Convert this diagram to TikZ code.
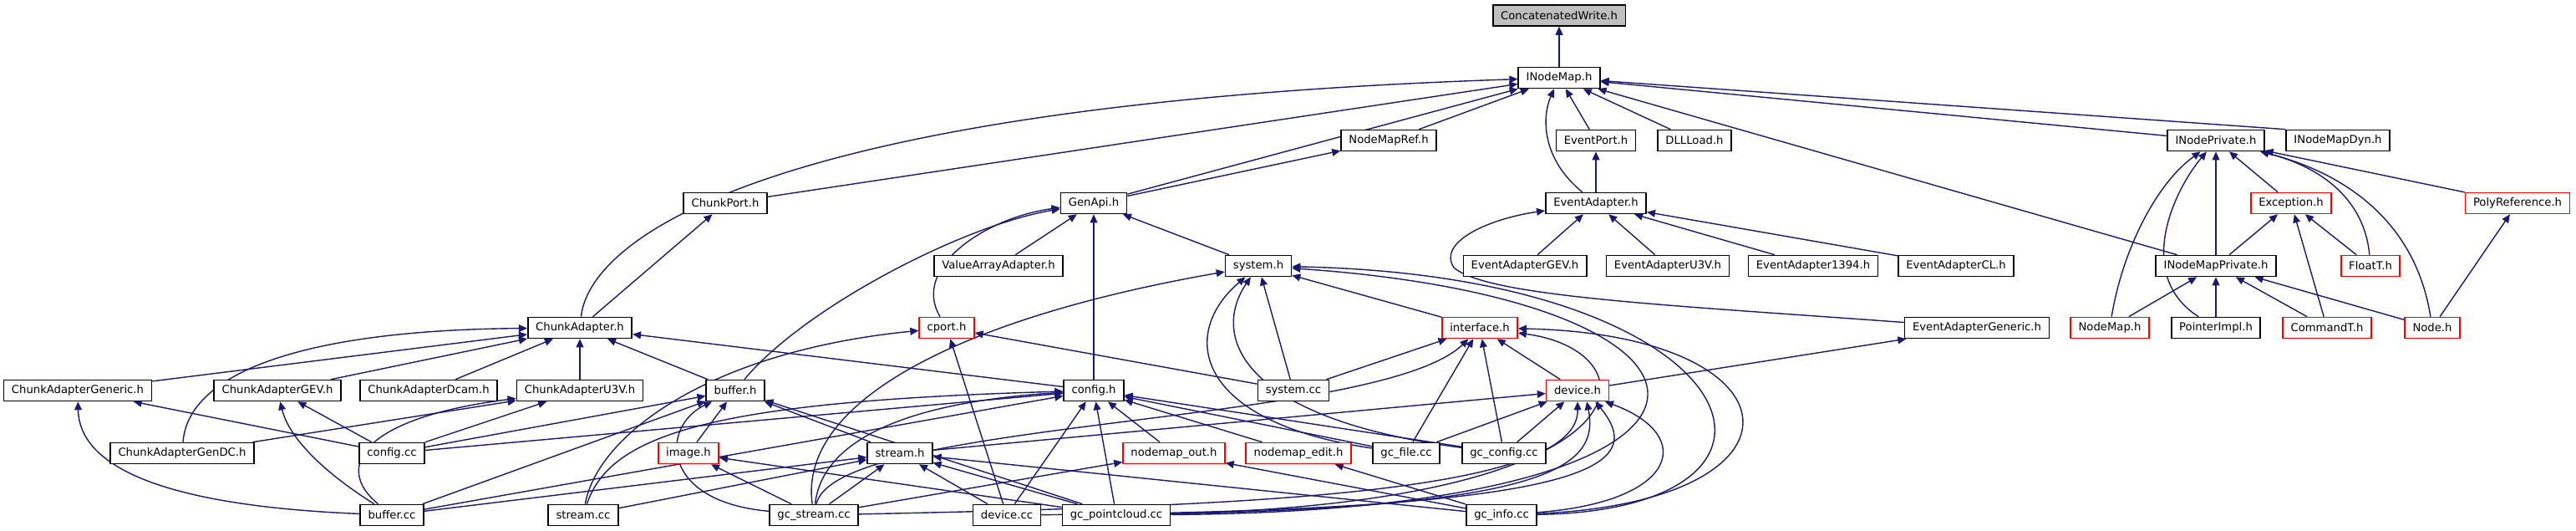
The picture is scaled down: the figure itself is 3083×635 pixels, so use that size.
\documentclass[tikz,border=0pt]{standalone}
\usepackage{fontspec}
\setmainfont{DejaVu Sans}
\definecolor{edgec}{RGB}{25,25,112}
\definecolor{rootc}{RGB}{191,191,191}
\definecolor{redc}{RGB}{255,0,0}
\usepackage{tikz}
\usetikzlibrary{
	arrows.meta,
	backgrounds % edges behind boxes
}
\tikzset{
  % arrow
	cstinc/.style     ={-{Triangle[length=5pt,width=4.4pt]}, edgec, line width=0.7pt}, % include arrow
  % node
	cstfile/.style    ={draw=black,fill=white,text=black,line width=0.8pt,minimum height=12.5pt,inner xsep=4.7pt,inner ysep=0pt,font=\fontsize{6.6}{7.9}\selectfont},
	cstfiler/.style   ={cstfile,draw=redc}, % red border
	cstroot/.style    ={cstfile,fill=rootc}  % gray root
}
\begin{document}
\begin{tikzpicture}[x=0.5pt,y=-0.5pt]
	\useasboundingbox (0,0) rectangle (3083,635);
	% row 0 - 2
	\node[cstroot] (cw) at (1866,18.5) {ConcatenatedWrite.h};
	\node[cstfile] (inm) at (1866,93) {INodeMap.h};
	\node[cstfile] (nmr) at (1662,168) {NodeMapRef.h};
	\node[cstfile] (evp) at (1910,168) {EventPort.h};
	\node[cstfile] (dll) at (2028,168) {DLLLoad.h};
	\node[cstfile] (inp) at (2652,168) {INodePrivate.h};
	\node[cstfile] (inmd) at (2798,168) {INodeMapDyn.h};
	% row 3
	\node[cstfile] (chp) at (868,243) {ChunkPort.h};
	\node[cstfile] (gen) at (1309,243) {GenApi.h};
	\node[cstfile] (eva) at (1910,243) {EventAdapter.h};
	\node[cstfiler] (exc) at (2742,243) {Exception.h};
	\node[cstfiler] (poly) at (3013,243) {PolyReference.h};
	% row 4
	\node[cstfile] (vaa) at (1195,318) {ValueArrayAdapter.h};
	\node[cstfile] (sysh) at (1506,318) {system.h};
	\node[cstfile] (evgev) at (1825,318) {EventAdapterGEV.h};
	\node[cstfile] (evu3v) at (1996,318) {EventAdapterU3V.h};
	\node[cstfile] (ev1394) at (2170,318) {EventAdapter1394.h};
	\node[cstfile] (evcl) at (2341,318) {EventAdapterCL.h};
	\node[cstfile] (inmp) at (2652,318) {INodeMapPrivate.h};
	\node[cstfiler] (flt) at (2837,318) {FloatT.h};
	% row 5
	\node[cstfile] (cha) at (694,392) {ChunkAdapter.h};
	\node[cstfiler] (cport) at (1133,392) {cport.h};
	\node[cstfiler] (ifc) at (1771,392) {interface.h};
	\node[cstfile] (evgen) at (2366,392) {EventAdapterGeneric.h};
	\node[cstfiler] (nm) at (2525,392) {NodeMap.h};
	\node[cstfile] (ptr) at (2652,392) {PointerImpl.h};
	\node[cstfiler] (cmd) at (2785,392) {CommandT.h};
	\node[cstfiler] (node) at (2911,392) {Node.h};
	% row 6
	\node[cstfile] (chgen) at (93,467) {ChunkAdapterGeneric.h};
	\node[cstfile] (chgev) at (332,467) {ChunkAdapterGEV.h};
	\node[cstfile] (chdcam) at (513,467) {ChunkAdapterDcam.h};
	\node[cstfile] (chu3v) at (694,467) {ChunkAdapterU3V.h};
	\node[cstfile] (bufh) at (880,467) {buffer.h};
	\node[cstfile] (cfgh) at (1309,467) {config.h};
	\node[cstfile] (syscc) at (1548,467) {system.cc};
	\node[cstfiler] (devh) at (1888,467) {device.h};
	% row 7
	\node[cstfile] (chgdc) at (218,542) {ChunkAdapterGenDC.h};
	\node[cstfile] (cfgcc) at (469,542) {config.cc};
	\node[cstfiler] (img) at (824,542) {image.h};
	\node[cstfile] (strh) at (1077,542) {stream.h};
	\node[cstfiler] (nmout) at (1405,542) {nodemap\_out.h};
	\node[cstfiler] (nmedit) at (1554,542) {nodemap\_edit.h};
	\node[cstfile] (gcfile) at (1683,542) {gc\_file.cc};
	\node[cstfile] (gccfg) at (1800,542) {gc\_config.cc};
	% row 8
	\node[cstfile] (bufcc) at (469,616) {buffer.cc};
	\node[cstfile] (strcc) at (698,616) {stream.cc};
	\node[cstfile] (gcstr) at (974,616) {gc\_stream.cc};
	\node[cstfile] (devcc) at (1205,616) {device.cc};
	\node[cstfile] (gcpc) at (1336,616) {gc\_pointcloud.cc};
	\node[cstfile] (gcinfo) at (1797,616) {gc\_info.cc};
	\begin{scope}[on background layer]
	% ConcatenatedWrite.h, INodeMap.h
	\draw[cstinc] (inm) -- (cw);
	\draw[cstinc] (cha) .. controls (705,290) and (900,125) .. (inm);
	\draw[cstinc] (chp) -- (inm);
	\draw[cstinc] (gen) -- (inm);
	\draw[cstinc] (nmr) -- (inm);
	\draw[cstinc] (eva) .. controls (1845,190) and (1845,140) .. (inm);
	\draw[cstinc] (evp) -- (inm);
	\draw[cstinc] (dll) -- (inm);
	\draw[cstinc] (inp) -- (inm);
	\draw[cstinc] (inmd.north west) -- (inm);
	\draw[cstinc] (inmp) -- (inm);
	\draw[cstinc] (gen) -- (nmr);
	\draw[cstinc] (eva) -- (evp);
	\draw[cstinc] (cha) -- (chp);
	% GenApi.h
	\draw[cstinc] (cport) .. controls (1090,320) and (1180,260) .. (gen);
	\draw[cstinc] (bufh) .. controls (960,370) and (1150,270) .. (gen);
	\draw[cstinc] (vaa) -- (gen);
	\draw[cstinc] (cfgh) -- (gen);
	\draw[cstinc] (sysh) -- (gen);
	% EventAdapter.h
	\draw[cstinc] (evgev) -- (eva);
	\draw[cstinc] (evu3v) -- (eva);
	\draw[cstinc] (ev1394) -- (eva);
	\draw[cstinc] (evcl) -- (eva);
	\draw[cstinc] (evgen) .. controls (2000,365) and (1780,355) .. (1740,320) .. controls (1720,290) and (1780,262) .. (eva);
	% INodePrivate.h
	\draw[cstinc] (exc) -- (inp);
	\draw[cstinc] (poly) -- (inp);
	\draw[cstinc] (flt) .. controls (2830,240) and (2780,200) .. (inp);
	\draw[cstinc] (node) .. controls (2890,260) and (2800,205) .. (inp);
	\draw[cstinc] (nm) .. controls (2540,300) and (2580,220) .. (inp);
	\draw[cstinc] (ptr) .. controls (2555,330) and (2600,230) .. (inp);
	\draw[cstinc] (inmp) -- (inp);
	% Exception.h, INodeMapPrivate.h, PolyReference.h
	\draw[cstinc] (inmp) -- (exc);
	\draw[cstinc] (cmd) -- (exc);
	\draw[cstinc] (flt) -- (exc);
	\draw[cstinc] (nm) -- (inmp);
	\draw[cstinc] (ptr) -- (inmp);
	\draw[cstinc] (cmd) -- (inmp);
	\draw[cstinc] (node) -- (inmp);
	\draw[cstinc] (node) -- (poly);
	% ChunkAdapter.h
	\draw[cstinc] (chgen) -- (cha);
	\draw[cstinc] (chgev) -- (cha);
	\draw[cstinc] (chdcam) -- (cha);
	\draw[cstinc] (chu3v) -- (cha);
	\draw[cstinc] (chgdc) .. controls (225,450) and (350,395) .. (cha);
	\draw[cstinc] (bufh) -- (cha);
	\draw[cstinc] (cfgh) -- (cha);
	% cport.h
	\draw[cstinc] (strcc) .. controls (715,520) and (850,420) .. (cport);
	\draw[cstinc] (syscc) -- (cport);
	\draw[cstinc] (devcc) -- (cport);
	% system.h
	\draw[cstinc] (ifc) -- (sysh);
	\draw[cstinc] (syscc) -- (sysh);
	\draw[cstinc] (gcstr) .. controls (955,480) and (1150,380) .. (sysh);
	\draw[cstinc] (gcfile) .. controls (1430,505) and (1410,400) .. (sysh);
	\draw[cstinc] (gccfg) .. controls (1480,500) and (1450,400) .. (sysh);
	\draw[cstinc] (gcpc) .. controls (2150,610) and (2120,360) .. (sysh);
	\draw[cstinc] (gcinfo) .. controls (2200,610) and (2100,330) .. (sysh);
	% interface.h
	\draw[cstinc] (syscc) -- (ifc);
	\draw[cstinc] (devh) -- (ifc);
	\draw[cstinc] (gcfile) -- (ifc);
	\draw[cstinc] (gccfg) -- (ifc);
	\draw[cstinc] (gcstr) .. controls (1000,500) and (1650,510) .. (ifc);
	\draw[cstinc] (gcpc) .. controls (1990,600) and (1980,420) .. (ifc);
	\draw[cstinc] (gcinfo) .. controls (2180,600) and (2160,400) .. (ifc);
	% EventAdapterGeneric.h
	\draw[cstinc] (devh) -- (evgen);
	% ChunkAdapterGeneric.h, ChunkAdapterGEV.h, ChunkAdapterU3V.h
	\draw[cstinc] (cfgcc) -- (chgen);
	\draw[cstinc] (bufcc) .. controls (200,605) and (95,560) .. (chgen);
	\draw[cstinc] (cfgcc) -- (chgev);
	\draw[cstinc] (bufcc) .. controls (380,560) and (345,520) .. (chgev);
	\draw[cstinc] (chgdc) -- (chu3v);
	\draw[cstinc] (bufcc) .. controls (400,560) and (430,500) .. (chu3v);
	\draw[cstinc] (cfgcc) -- (chu3v);
	% buffer.h
	\draw[cstinc] (bufcc) -- (bufh);
	\draw[cstinc] (cfgcc) -- (bufh);
	\draw[cstinc] (gcstr) .. controls (790,600) and (790,510) .. (bufh);
	\draw[cstinc] (img) -- (bufh);
	\draw[cstinc] (strh) -- (bufh);
	\draw[cstinc] (gcpc) -- (bufh);
	% config.h
	\draw[cstinc] (bufcc) -- (cfgh);
	\draw[cstinc] (cfgcc) -- (cfgh);
	\draw[cstinc] (strcc) .. controls (730,520) and (850,480) .. (cfgh);
	\draw[cstinc] (gcstr) .. controls (985,520) and (1100,480) .. (cfgh);
	\draw[cstinc] (devcc) -- (cfgh);
	\draw[cstinc] (gcpc) -- (cfgh);
	\draw[cstinc] (nmout) -- (cfgh);
	\draw[cstinc] (nmedit) -- (cfgh);
	\draw[cstinc] (gcfile) -- (cfgh);
	\draw[cstinc] (gccfg) -- (cfgh);
	% device.h
	\draw[cstinc] (strh) -- (devh);
	\draw[cstinc] (gcfile) -- (devh);
	\draw[cstinc] (gccfg) -- (devh);
	\draw[cstinc] (gcstr) .. controls (1500,605) and (1890,590) .. (devh.-90);
	\draw[cstinc] (gcpc) .. controls (1850,605) and (1915,560) .. (devh.-50);
	\draw[cstinc] (devcc) .. controls (1900,610) and (1975,560) .. (devh.-32);
	\draw[cstinc] (gcinfo) .. controls (2010,600) and (2030,520) .. (devh.-22);
	% image.h, stream.h
	\draw[cstinc] (gcstr) -- (img);
	\draw[cstinc] (gcpc) -- (img);
	\draw[cstinc] (strcc) -- (strh);
	\draw[cstinc] (bufcc) -- (strh);
	\draw[cstinc] (gcstr) -- (strh);
	\draw[cstinc] (devcc) -- (strh);
	\draw[cstinc] (gcpc) -- (strh);
	\draw[cstinc] (gcinfo) -- (strh);
	% nodemap_out.h, nodemap_edit.h
	\draw[cstinc] (gcstr) -- (nmout);
	\draw[cstinc] (gcinfo) -- (nmout);
	\draw[cstinc] (gcinfo) -- (nmedit);
	\end{scope}
\end{tikzpicture}
\end{document}
